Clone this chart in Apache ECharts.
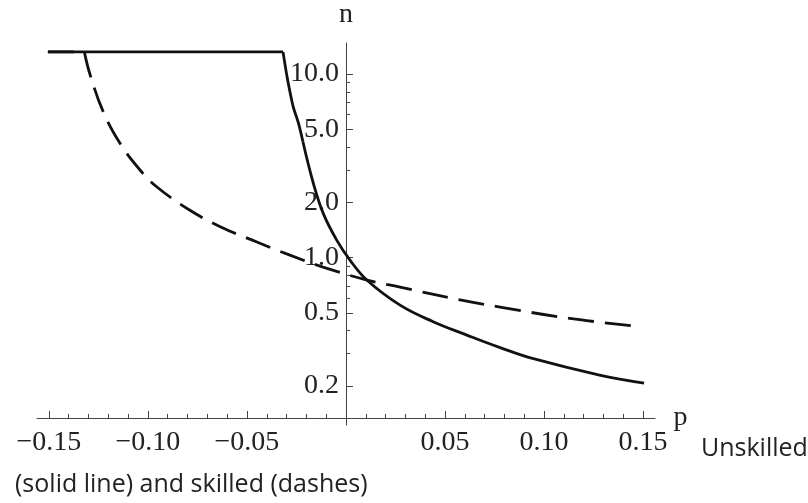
<!DOCTYPE html>
<html>
<head>
<meta charset="utf-8">
<script src="https://cdn.jsdelivr.net/npm/echarts@6/dist/echarts.min.js"></script>
<style>
  html, body { margin: 0; padding: 0; background: #fff; }
  #chart { width: 808px; height: 503px; }
</style>
</head>
<body>
<div id="chart"></div>
<script>
// unskilled (solid line): [p, n]
var unskilled = [
  [-0.1505, 13.2], [-0.0318, 13.2], [-0.0300, 10.0], [-0.0283, 8.0],
  [-0.0266, 6.6], [-0.0240, 5.4], [-0.0218, 4.3], [-0.0165, 2.54],
  [-0.0115, 1.74], [-0.0047, 1.245], [0.0020, 0.969], [0.0105, 0.754],
  [0.0273, 0.55], [0.0440, 0.447], [0.0610, 0.378], [0.0778, 0.323],
  [0.0946, 0.281], [0.1280, 0.229], [0.1505, 0.207]
]
// skilled (dashes): [p, n]
var skilled = [
  [-0.1505, 13.2], [-0.1321, 13.2], [-0.1293, 10.0], [-0.1226, 6.24],
  [-0.1141, 4.19], [-0.1040, 3.0], [-0.0956, 2.43], [-0.0788, 1.81],
  [-0.0621, 1.45], [-0.0450, 1.215], [-0.0283, 1.03], [-0.0116, 0.887],
  [0.0106, 0.754], [0.0273, 0.69], [0.0576, 0.587], [0.0778, 0.537],
  [0.1116, 0.468], [0.1450, 0.424]
]
var xLabels = [-0.15, -0.10, -0.05, 0.05, 0.10, 0.15]
var xMajor = [-0.15, -0.10, -0.05, 0, 0.05, 0.10, 0.15]
var xMinor = [-0.14, -0.13, -0.12, -0.11, -0.09, -0.08, -0.07, -0.06,
  -0.04, -0.03, -0.02, -0.01, 0.01, 0.02, 0.03, 0.04, 0.06, 0.07, 0.08,
  0.09, 0.11, 0.12, 0.13, 0.14]
var yMajor = [0.2, 0.5, 1, 2, 5, 10]
var yMinor = [0.3, 0.4, 0.6, 0.7, 0.8, 0.9, 3, 4, 6, 7, 8, 9]

var serif = '"Liberation Serif", "DejaVu Serif", serif'
var sans = '"Open Sans", "DejaVu Sans", sans-serif'
var axisColor = '#444'
var xMin = -0.156, xMax = 0.156
var yMin = 0.1223, yMax = 14.76
var gridLeft = 37, gridRight = 153
// y axis sits at p = 0
var yOffset = -Math.round((808 - gridLeft - gridRight) * (0 - xMin) / (xMax - xMin))

function part(data, dash, smooth) {
  return {
    type: 'line', data: data, showSymbol: false, z: dash ? 4 : 3,
    smooth: smooth,
    lineStyle: { color: '#111', width: 2.8, type: dash ? [26, 11] : 'solid' }
  }
}

var chart = echarts.init(document.getElementById('chart'))
chart.setOption({
  animation: false,
  grid: { left: gridLeft, right: gridRight, top: 43, bottom: 78, containLabel: false, outerBoundsMode: 'none' },
  xAxis: [
    {
      type: 'value', min: xMin, max: xMax, position: 'bottom', offset: -7,
      name: 'p', nameLocation: 'end', nameGap: 18,
      nameTextStyle: { fontFamily: serif, fontSize: 28, color: '#222', verticalAlign: 'middle', padding: [14, 0, 0, 0] },
      axisLine: { show: true, onZero: false, lineStyle: { color: axisColor, width: 1 } },
      axisTick: { show: true, inside: true, length: 7, customValues: xMajor, lineStyle: { color: axisColor } },
      axisLabel: {
        customValues: xLabels, margin: 11, fontFamily: serif, fontSize: 28, color: '#222',
        formatter: function (v) { return (v < 0 ? '\u2212' : '') + Math.abs(v).toFixed(2) }
      },
      splitLine: { show: false }
    },
    {
      type: 'value', min: xMin, max: xMax, position: 'bottom', offset: -7,
      axisLine: { show: false, onZero: false },
      axisTick: { show: true, inside: true, length: 4, customValues: xMinor, lineStyle: { color: axisColor } },
      axisLabel: { show: false },
      splitLine: { show: false }
    }
  ],
  yAxis: [
    {
      type: 'log', logBase: 10, min: yMin, max: yMax, position: 'left', offset: yOffset,
      name: 'n', nameLocation: 'end', nameGap: 14,
      nameTextStyle: { fontFamily: serif, fontSize: 28, color: '#222' },
      axisLine: { show: true, onZero: false, lineStyle: { color: axisColor, width: 1 } },
      axisTick: { show: true, inside: true, length: 7, customValues: yMajor, lineStyle: { color: axisColor } },
      axisLabel: {
        customValues: yMajor, margin: 7, fontFamily: serif, fontSize: 28, color: '#222',
        formatter: function (v) { return Number(v).toFixed(1) }
      },
      splitLine: { show: false }
    },
    {
      type: 'log', logBase: 10, min: yMin, max: yMax, position: 'left', offset: yOffset,
      axisLine: { show: false, onZero: false },
      axisTick: { show: true, inside: true, length: 4, customValues: yMinor, lineStyle: { color: axisColor } },
      axisLabel: { show: false },
      splitLine: { show: false }
    }
  ],
  series: [
    // unskilled: flat cap, steep upper part, lower curve
    part(unskilled.slice(0, 2), false, false),
    part(unskilled.slice(1, 7), false, 0.3),
    part(unskilled.slice(6), false, 0.4),
    // skilled: flat cap, then curve
    part(skilled.slice(0, 2), true, false),
    part(skilled.slice(1), true, 0.4)
  ],
  graphic: [
    {
      type: 'text', left: 701, top: 436,
      style: { text: 'Unskilled', font: '25px ' + sans, fill: '#222' }
    },
    {
      type: 'text', left: 15, top: 472,
      style: { text: '(solid line) and skilled (dashes)', font: '25px ' + sans, fill: '#222' }
    }
  ]
})
</script>
</body>
</html>
